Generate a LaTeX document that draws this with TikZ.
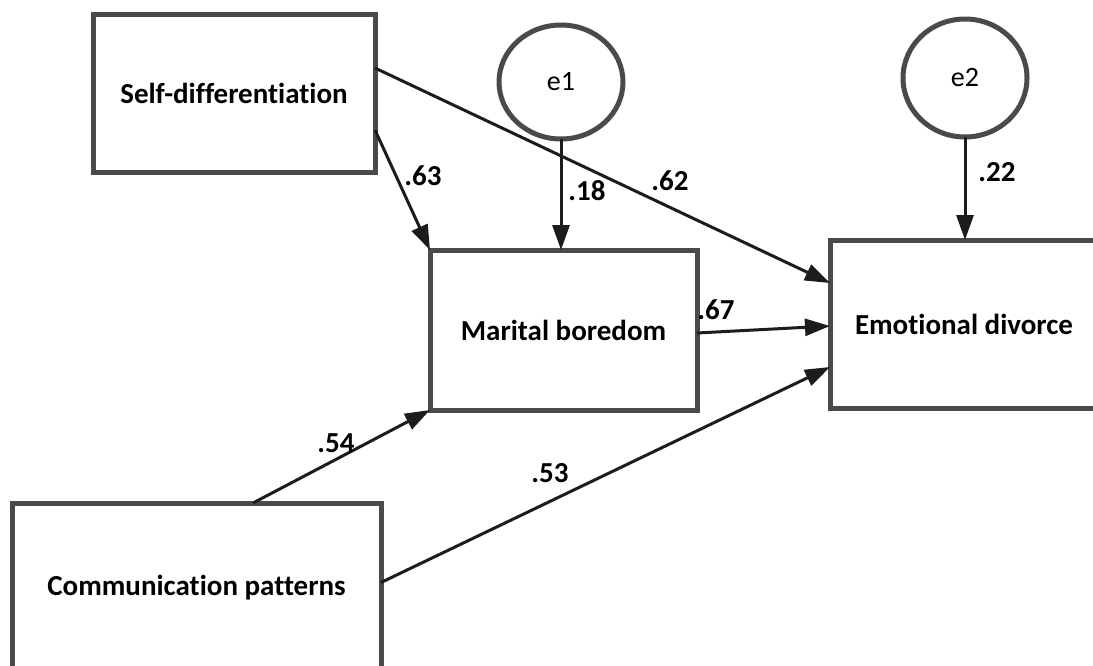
\documentclass[tikz,border=0pt]{standalone}
\usepackage{fontspec}
\setmainfont{Carlito}[Ligatures={NoCommon,NoRequired,NoContextual}]
\usetikzlibrary{arrows.meta,shapes.geometric}
\definecolor{boxgray}{HTML}{4A4A4A}
\definecolor{arrowcol}{HTML}{1C1C1C}
\begin{document}
\begin{tikzpicture}[x=1pt,y=-1pt,
  varbox/.style={draw=boxgray, line width=5pt, fill=white, rectangle, inner sep=0pt, outer sep=0pt,
     font=\fontsize{29}{32}\selectfont\bfseries},
  errc/.style={draw=boxgray, line width=5pt, fill=white, ellipse, inner sep=0pt, outer sep=0pt,
     minimum width=124pt, font=\fontsize{28}{30}\selectfont},
  path/.style={draw=arrowcol, line width=3pt, -{Triangle[length=25pt,width=17pt]}},
  coef/.style={font=\fontsize{29}{30}\selectfont\bfseries, text=black, inner sep=0pt}
]
\clip (0,0) rectangle (1093,665);
\fill[white] (0,0) rectangle (1093,665);
\node[varbox, minimum width=282pt, minimum height=158pt] (sd) at (234,93) {Self-differentiation};
\node[varbox, minimum width=267pt, minimum height=160pt] (mb) at (563.5,330) {\raisebox{-3pt}{Marital boredom}};
\node[varbox, minimum width=268pt, minimum height=168pt] (ed) at (964,324) {Emotional divorce};
\node[varbox, minimum width=369pt, minimum height=169pt] (cp) at (196.5,587.5) {Communication patterns};
\node[errc, minimum height=114pt] (e1) at (561,82) {e1};
\node[errc, minimum height=118pt] (e2) at (965,78) {e2};

\draw[path] ([yshift=-37pt]sd.east) -- (mb.north west);
\draw[path] ([yshift=25pt]sd.east) -- ([yshift=41pt]ed.west);
\draw[path] (e1.south) -- (e1.south |- mb.north);
\draw[path] (e2.south) -- (e2.south |- ed.north);
\draw[path] ([yshift=-3pt]mb.east) -- ([yshift=-2pt]ed.west);
\draw[path] ([xshift=56.5pt]cp.north) -- (mb.south west);
\draw[path] ([yshift=5pt]cp.east) -- ([yshift=-43pt]ed.west);

\node[coef] (l63) at (423,176) {.63};
\node[coef] (l18) at (587,191) {.18};
\node[coef] (l62) at (670,181) {.62};
\node[coef] (l22) at (997,172) {.22};
\node[coef] (l67) at (716,310) {.67};
\node[coef] (l54) at (336,443) {.54};
\node[coef] (l53) at (550,473) {.53};
\end{tikzpicture}
\end{document}
